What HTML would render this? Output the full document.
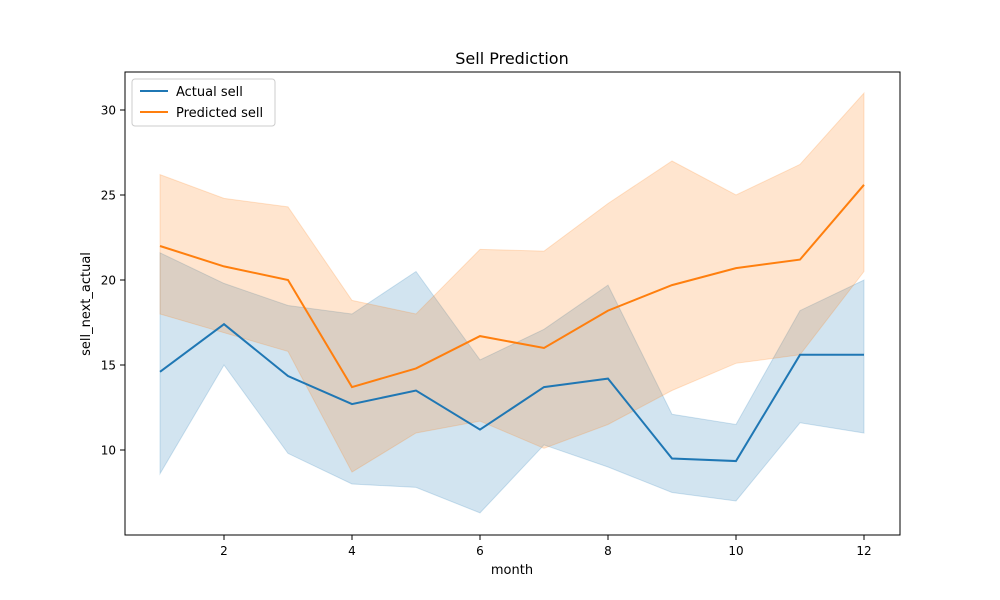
<!DOCTYPE html>
<html><head><meta charset="utf-8"><style>body{margin:0;background:#fff}svg{display:block;font-family:"DejaVu Sans","Liberation Sans",sans-serif}</style></head>
<body>
<svg id="chart" width="1000" height="600" viewBox="0 0 1000 600">
<rect width="1000" height="600" fill="#fff"/>
<text x="512" y="64" text-anchor="middle" font-size="16">Sell Prediction</text>
<g id="bands"></g><g id="lines"></g>
<rect x="125" y="72" width="775" height="463" fill="none" stroke="#000" stroke-width="1"/>
<g id="xticks"></g><g id="yticks"></g>
<text x="512" y="574" text-anchor="middle" font-size="13">month</text>
<text transform="translate(90,304) rotate(-90)" text-anchor="middle" font-size="13">sell_next_actual</text>
<g>
<rect x="132" y="79" width="143" height="47" rx="3" fill="#fff" fill-opacity="0.8" stroke="#ccc"/>
<line x1="140" y1="91" x2="168" y2="91" stroke="#1f77b4" stroke-width="2"/>
<text x="176" y="96" font-size="13">Actual sell</text>
<line x1="140" y1="112" x2="168" y2="112" stroke="#ff7f0e" stroke-width="2"/>
<text x="176" y="117" font-size="13">Predicted sell</text>
</g>
</svg>
<script>
const months=[1,2,3,4,5,6,7,8,9,10,11,12];
const actual=[14.6,17.4,14.35,12.7,13.5,11.2,13.7,14.2,9.5,9.35,15.6,15.6];
const actualHi=[21.6,19.8,18.5,18,20.5,15.3,17.1,19.7,12.1,11.5,18.2,20];
const actualLo=[8.6,15,9.8,8,7.8,6.3,10.3,9,7.5,7,11.6,11];
const predicted=[22,20.8,20,13.7,14.8,16.7,16,18.2,19.7,20.7,21.2,25.6];
const predHi=[26.2,24.8,24.3,18.8,18,21.8,21.7,24.5,27,25,26.8,31];
const predLo=[18,16.9,15.8,8.7,11,11.7,10.1,11.5,13.5,15.1,15.6,20.5];
const xTicks=[2,4,6,8,10,12];
const yTicks=[10,15,20,25,30];
const X=m=>160+(m-1)*64, Y=v=>450-(v-10)*17;
const NS="http://www.w3.org/2000/svg";
function mk(tag,attrs,parent){const e=document.createElementNS(NS,tag);for(const k in attrs)e.setAttribute(k,attrs[k]);document.getElementById(parent).appendChild(e);return e;}
function band(hi,lo,color,name){
 const pts=months.map((m,i)=>X(m)+','+Y(hi[i])).concat(months.slice().reverse().map((m,j)=>X(m)+','+Y(lo[months.length-1-j])));
 const p=mk('polygon',{points:pts.join(' '),fill:color,'fill-opacity':0.2,stroke:color,'stroke-opacity':0.2},'bands');
 
 
}
function line(v,color,name){
 const p=mk('polyline',{points:months.map((m,i)=>X(m)+','+Y(v[i])).join(' '),fill:'none',stroke:color,'stroke-width':2},'lines');
 
 
}
band(actualHi,actualLo,'#1f77b4','actual-confidence-band');
band(predHi,predLo,'#ff7f0e','predicted-confidence-band');
line(actual,'#1f77b4','actual-sell-line');
line(predicted,'#ff7f0e','predicted-sell-line');
xTicks.forEach(t=>{mk('line',{x1:X(t),x2:X(t),y1:535,y2:540,stroke:'#000'},'xticks');
 const s=mk('text',{x:X(t),y:555,'text-anchor':'middle','font-size':12},'xticks');s.textContent=t;
 
 });
yTicks.forEach(t=>{mk('line',{x1:120,x2:125,y1:Y(t),y2:Y(t),stroke:'#000'},'yticks');
 const s=mk('text',{x:116,y:Y(t)+4.5,'text-anchor':'end','font-size':12},'yticks');s.textContent=t;
 
 });
</script>
</body></html>
